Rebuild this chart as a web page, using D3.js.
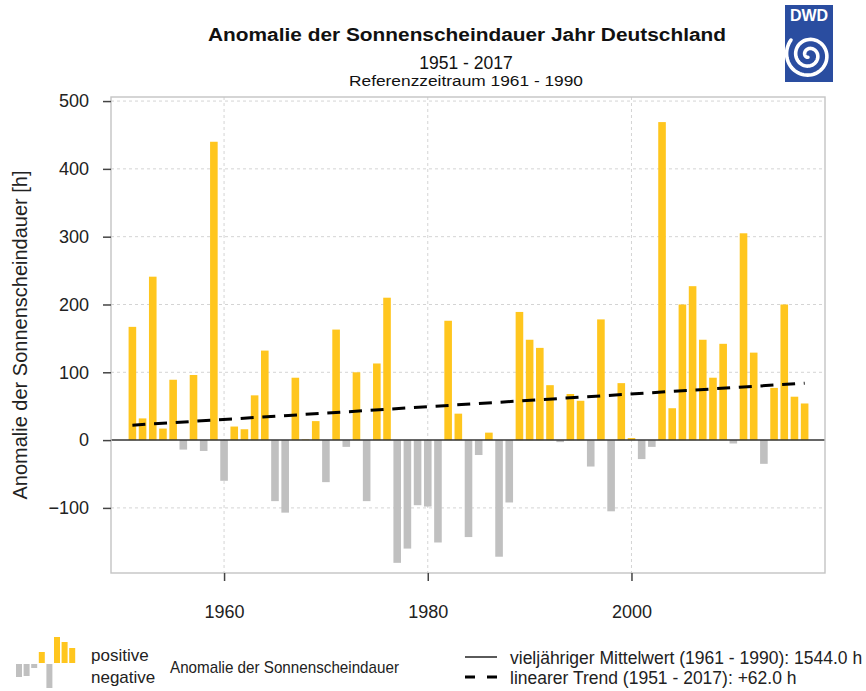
<!DOCTYPE html>
<html>
<head>
<meta charset="utf-8">
<script src="https://cdn.jsdelivr.net/npm/d3@7"></script>
<style>
  body { margin: 0; background: #fff; }
  svg { display: block; font-family: "Liberation Sans", Arial, sans-serif; }
</style>
</head>
<body>
<svg id="chart" width="866" height="691"></svg>
<script>
// Sonnenscheindauer-Anomalie je Jahr (h), ab 1951
const firstYear = 1951;
const anomaly = [
  167, 32, 241, 17, 89, -14, 96, -16, 440, -60,
  20, 16, 66, 132, -90, -107, 92, 1, 28, -62,
  163, -10, 100, -90, 113, 210, -181, -160, -96, -98,
  -151, 176, 39, -143, -22, 11, -172, -92, 189, 148,
  136, 81, -3, 68, 58, -39, 178, -105, 84, 3,
  -28, -10, 469, 47, 200, 227, 148, 92, 142, -5,
  305, 129, -35, 77, 200, 64, 54
];
const trendYears = [1951, 2017];
const trendValues = [22, 84];
const yTicks = [-100, 0, 100, 200, 300, 400, 500];
const xTicks = [1960, 1980, 2000];
// kleine Balken im Legendensymbol
const iconPos = [0, 0, 0, 11, 0, 26, 21, 15];
const iconNeg = [13, 12, 4, 0, 24, 0, 0, 0];

const yellow = "#ffc61e", grey = "#c0c0c0";

const svg = d3.select("#chart");
const pLeft = 111, pRight = 825, pTop = 97, pBottom = 573;

const data = anomaly.map((v, i) => ({year: firstYear + i, value: v}));

const x = d3.scaleLinear().domain([1948.9, 2019]).range([pLeft, pRight]);
const y = d3.scaleLinear().domain([-196, 506]).range([pBottom, pTop]);

// Titel
svg.append("text").attr("x", 467).attr("y", 41).attr("text-anchor", "middle")
  .attr("font-size", 18).attr("font-weight", "bold").attr("fill", "#111")
  .attr("textLength", 518).attr("lengthAdjust", "spacingAndGlyphs")
  .text("Anomalie der Sonnenscheindauer Jahr Deutschland");
svg.append("text").attr("x", 466).attr("y", 69).attr("text-anchor", "middle")
  .attr("font-size", 17.5).attr("fill", "#111").text("1951 - 2017");
svg.append("text").attr("x", 466).attr("y", 86).attr("text-anchor", "middle")
  .attr("font-size", 15.5).attr("fill", "#111")
  .attr("textLength", 234).attr("lengthAdjust", "spacingAndGlyphs")
  .text("Referenzzeitraum 1961 - 1990");

// Gitter
const grid = svg.append("g").attr("stroke", "#d4d4d4").attr("stroke-dasharray", "3,3");
grid.selectAll("line.h").data(yTicks.filter(d => d !== 0)).join("line").attr("class", "h")
  .attr("x1", pLeft).attr("x2", pRight).attr("y1", d => y(d)).attr("y2", d => y(d));
grid.selectAll("line.v").data(xTicks).join("line").attr("class", "v")
  .attr("y1", pTop).attr("y2", pBottom).attr("x1", d => x(d)).attr("x2", d => x(d));

// Balken
const bw = 7.6;
svg.append("g").selectAll("rect").data(data).join("rect")
  .attr("x", d => x(d.year) - bw / 2)
  .attr("width", bw)
  .attr("y", d => y(Math.max(0, d.value)))
  .attr("height", d => Math.abs(y(d.value) - y(0)))
  .attr("fill", d => d.value >= 0 ? yellow : grey);

// Nulllinie
svg.append("line").attr("x1", pLeft).attr("x2", pRight)
  .attr("y1", y(0)).attr("y2", y(0)).attr("stroke", "#333").attr("stroke-width", 1.5);

// Trend
svg.append("path")
  .datum(trendYears.map((t, i) => [t, trendValues[i]]))
  .attr("d", d3.line().x(d => x(d[0])).y(d => y(d[1])))
  .attr("fill", "none").attr("stroke", "#000").attr("stroke-width", 3)
  .attr("stroke-dasharray", "13,8.7");

// Rahmen
svg.append("rect").attr("x", pLeft).attr("y", pTop)
  .attr("width", pRight - pLeft).attr("height", pBottom - pTop)
  .attr("fill", "none").attr("stroke", "#c4c4c4").attr("stroke-width", 1.4);

// Achsen
const yAxis = svg.append("g").attr("transform", `translate(${pLeft},0)`)
  .call(d3.axisLeft(y).tickValues(yTicks).tickSize(8).tickPadding(14));
const xAxis = svg.append("g").attr("transform", `translate(0,${pBottom})`)
  .call(d3.axisBottom(x).tickValues(xTicks).tickFormat(d3.format("d")).tickSize(8).tickPadding(24));
[yAxis, xAxis].forEach(a => {
  a.select(".domain").remove();
  a.selectAll(".tick line").attr("stroke", "#444").attr("stroke-width", 1.5);
  a.selectAll(".tick text").attr("font-size", 18).attr("fill", "#222")
    .attr("font-family", "'Liberation Sans', Arial, sans-serif");
});

svg.append("text").attr("transform", "translate(27,335) rotate(-90)")
  .attr("text-anchor", "middle").attr("font-size", 20).attr("fill", "#222")
  .text("Anomalie der Sonnenscheindauer [h]");

// DWD Logo
const logo = svg.append("g");
logo.append("rect").attr("x", 785).attr("y", 5).attr("width", 48).attr("height", 77).attr("fill", "#2a4da0");
logo.append("text").attr("x", 809).attr("y", 21).attr("text-anchor", "middle")
  .attr("font-size", 16).attr("font-weight", "bold").attr("fill", "#fff").text("DWD");
const spiral = d3.range(0, 4.6 * Math.PI, 0.1).map(t => {
  const r = 2.5 + t * 1.45;
  return [809 + r * Math.cos(t + 2.0), 55 + r * Math.sin(t + 2.0)];
});
logo.append("path").attr("d", d3.line()(spiral))
  .attr("fill", "none").attr("stroke", "#fff").attr("stroke-width", 3.6)
  .attr("stroke-linecap", "round");

// Legende
const leg = svg.append("g");
leg.selectAll("rect.p").data(iconPos).join("rect").attr("class", "p")
  .attr("x", (d, i) => 16 + i * 7.6).attr("width", 6)
  .attr("y", d => 663 - d).attr("height", d => d).attr("fill", yellow);
leg.selectAll("rect.n").data(iconNeg).join("rect").attr("class", "n")
  .attr("x", (d, i) => 16 + i * 7.6).attr("width", 6)
  .attr("y", 664).attr("height", d => d).attr("fill", grey);

const lt = (xx, yy, s, fs) => leg.append("text").attr("x", xx).attr("y", yy)
  .attr("font-size", fs).attr("fill", "#222").text(s);
lt(91, 661, "positive", 17);
lt(91, 683, "negative", 17);
lt(170, 673, "Anomalie der Sonnenscheindauer", 17)
  .attr("textLength", 229).attr("lengthAdjust", "spacingAndGlyphs");
leg.append("line").attr("x1", 465).attr("x2", 497).attr("y1", 657).attr("y2", 657)
  .attr("stroke", "#000").attr("stroke-width", 1.3);
leg.append("line").attr("x1", 465).attr("x2", 497).attr("y1", 677).attr("y2", 677)
  .attr("stroke", "#000").attr("stroke-width", 3).attr("stroke-dasharray", "10,12");
lt(510, 664, "vieljähriger Mittelwert (1961 - 1990): 1544.0 h", 17.5);
lt(510, 684, "linearer Trend (1951 - 2017): +62.0 h", 17.5);
</script>
</body>
</html>
